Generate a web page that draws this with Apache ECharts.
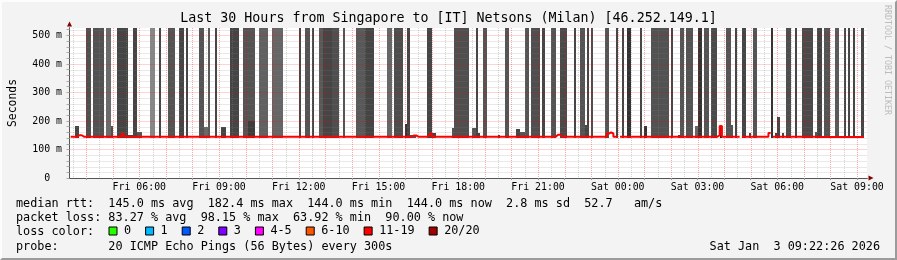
<!DOCTYPE html>
<html><head><meta charset="utf-8">
<script src="https://cdn.jsdelivr.net/npm/echarts@6/dist/echarts.min.js"></script>
<style>
html,body{margin:0;padding:0;background:#f3f3f3;}
#wrap{position:relative;width:897px;height:260px;}
#chart{width:897px;height:260px;}
#frame{position:absolute;left:0;top:0;width:897px;height:260px;box-sizing:border-box;border-top:2px solid #fcfcfc;border-left:2px solid #fcfcfc;border-right:2px solid #9b9b9b;border-bottom:2px solid #9b9b9b;pointer-events:none;}
</style></head><body>
<div id="wrap"><div id="chart"></div><div id="frame"></div></div>
<script>
// ---- time frame (minutes since Fri 00:00) ----
const startMinute = 202 + 26 / 60;      // Fri 03:22:26
const endMinute = startMinute + 30 * 60; // Sat 09:22:26
const firstBinMinute = 205;              // first 5-minute bin starts Fri 03:25
const binMinutes = 5;

// ---- median RTT per 5-minute bin (ms), null = no median ----
const medianMs = [
145,145,145,150,150,145,145,145,145,145,145,145,
145,145,145,145,145,145,145,145,145,145,145,155,
145,145,145,145,145,145,145,145,145,145,145,145,
145,145,145,145,145,145,145,145,145,145,145,145,
145,145,145,145,145,145,145,145,145,145,145,145,
145,145,145,145,145,145,145,145,145,145,145,145,
145,145,145,145,145,145,145,145,145,145,145,145,
145,145,145,145,145,145,145,145,145,145,145,145,
145,145,145,145,145,145,145,145,145,145,145,145,
145,145,145,145,145,145,145,145,145,145,145,145,
145,145,145,145,145,145,145,145,145,145,145,145,
145,145,145,145,145,145,145,145,145,145,145,145,
145,145,145,145,145,145,145,145,145,145,149,149,
145,145,145,145,145,151,158,145,145,145,145,145,
145,145,145,145,145,145,145,145,145,145,145,145,
145,145,145,145,145,145,145,145,145,145,145,145,
145,145,145,145,145,145,145,145,145,145,145,145,
145,145,145,145,145,145,145,145,145,145,145,145,
145,145,145,152,152,145,145,145,145,145,145,145,
145,145,145,145,145,145,145,145,145,145,145,145,
145,145,156,160,156,145,145,null,145,145,145,145,
145,145,145,145,145,145,145,145,145,145,145,145,
145,145,145,145,145,145,145,145,145,145,145,145,
145,145,145,145,145,145,145,145,145,145,145,145,
145,145,145,145,150,182.4,145,145,145,145,145,145,
145,145,null,145,145,145,145,145,145,145,145,145,
145,145,145,158,null,145,145,145,145,145,145,145,
145,145,145,145,145,145,145,145,145,145,145,145,
144,144,144,144,144,144,144,144,144,144,144,144,
144,144,144,144,144,144,144,144,144,144
];

// ---- smoke (ping spread) runs: first bin, bin count, top (ms), density ----
// tall runs reach beyond the top of the scale (600 = off-scale)
const smokeBin = [7,10,16,21,28,36,40,44,49,52,58,62,65,72,78,85,91,103,106,109,112,114,118,123,129,133,143,146,152,161,173,183,186,196,205,208,213,217,221,227,230,233,235,241,246,249,251,257,262,271,275,278,283,286,289,296,300,303,308,316,323,327,330,337,340,345,349,351,353,357,
  2,18,26,30,60,68,80,153,151,163,172,181,184,193,201,203,232,259,274,282,293,298,306,318,319,321,336];
const smokeLen = [2,5,2,5,2,2,1,3,2,1,2,1,1,4,5,4,5,1,2,1,2,4,3,1,4,4,2,4,1,2,7,1,2,2,2,4,1,2,3,1,2,1,1,2,1,1,2,1,8,1,2,3,2,2,3,2,1,2,2,1,2,1,5,2,3,2,1,1,1,1,
  2,1,2,2,2,2,3,3,1,2,1,2,1,1,2,2,2,1,1,1,1,1,1,1,1,1,1];
const smokeTop = [600,600,600,600,600,600,600,600,600,600,600,600,600,600,600,600,600,600,600,600,600,600,600,600,600,600,600,600,600,600,600,600,600,600,600,600,600,600,600,600,600,600,600,600,600,600,600,600,600,600,600,600,600,600,600,600,600,600,600,600,600,600,600,600,600,600,600,600,600,600,
  181,181,151,161,179,178,200,152,189,157,175,175,157,150,171,161,185,182,150,181,182,185,157,157,213,157,160];
const smokeDensity = [.69,.68,.58,.73,.73,.47,.73,.67,.73,.73,.67,.65,.73,.73,.67,.62,.60,.73,.67,.73,.65,.73,.69,.67,.65,.73,.60,.70,.73,.73,.69,.73,.67,.67,.67,.69,.73,.67,.71,.73,.67,.73,.70,.67,.73,.73,.80,.73,.68,.73,.67,.67,.80,.67,.71,.67,.73,.73,.67,.80,.70,.73,.71,.73,.67,.65,.73,.73,.73,.73,
  .73,.69,.73,.67,.60,.73,.76,.67,.80,.73,.67,.67,.73,.73,.73,.67,.73,.80,.73,.60,.87,.67,.73,.73,.73,.73,.67];
const smokeLowMs = 141;

// ---- axes ----
const timeLabelMinutes = [360,540,720,900,1080,1260,1440,1620,1800,1980];
const timeLabels = ['Fri 06:00','Fri 09:00','Fri 12:00','Fri 15:00','Fri 18:00','Fri 21:00','Sat 00:00','Sat 03:00','Sat 06:00','Sat 09:00'];
const yTickValues = [0,100,200,300,400,500];
const yTickLabels = ['0  ','100 m','200 m','300 m','400 m','500 m'];
const yMax = 526;

// ---- legend ----
const lossNames = ['0','1','2','3','4-5','6-10','11-19','20/20'];
const lossColors = ['#26ff00','#00b8ff','#0059ff','#7e00ff','#ff00ff','#ff5500','#ff0000','#a10000'];

const statLine1 = 'median rtt:  145.0 ms avg  182.4 ms max  144.0 ms min  144.0 ms now  2.8 ms sd  52.7   am/s';
const statLine2 = 'packet loss: 83.27 % avg  98.15 % max  63.92 % min  90.00 % now';
const statLine3 = 'loss color:';
const statLine4 = 'probe:       20 ICMP Echo Pings (56 Bytes) every 300s';
const stampText = 'Sat Jan  3 09:22:26 2026';
const titleText = 'Last 30 Hours from Singapore to [IT] Netsons (Milan) [46.252.149.1]';

// ---------------------------------------------------------------
const MONO = '"DejaVu Sans Mono", monospace';

const smokeData = smokeBin.map((b, i) => [
  firstBinMinute + b * binMinutes,
  firstBinMinute + (b + smokeLen[i]) * binMinutes,
  smokeLowMs, smokeTop[i], smokeDensity[i]
]);

const medianData = [];
medianMs.forEach((v, k) => {
  const t = firstBinMinute + k * binMinutes;
  if (v === null) { medianData.push([t, '-']); }
  else { medianData.push([t, v]); medianData.push([t + binMinutes, v]); }
});

// grid lines (kind 0: hour, 1: half hour, 2: 100 ms, 3: 20 ms)
const gridData = [];
for (let t = Math.ceil(startMinute / 30) * 30; t < endMinute; t += 30) gridData.push([t % 60 === 0 ? 0 : 1, t]);
for (let v = 20; v < yMax; v += 20) gridData.push([v % 100 === 0 ? 2 : 3, v]);
const yMinorTicks = []; for (let v = 0; v < yMax; v += 20) yMinorTicks.push(v);
const hourTicks = []; for (let t = Math.ceil(startMinute / 60) * 60; t < endMinute; t += 60) hourTicks.push(t);

function grayOf(d) { const g = Math.round(255 * (1 - d)); return 'rgb(' + g + ',' + g + ',' + g + ')'; }

const chart = echarts.init(document.getElementById('chart'), null, {renderer: 'canvas'});
const option = {
  animation: false,
  backgroundColor: '#f3f3f3',
  grid: {left: 67, right: 30, top: 28, bottom: 82, show: true, backgroundColor: '#ffffff', borderWidth: 0},
  xAxis: [{
    type: 'value', min: startMinute, max: endMinute, z: 6,
    axisLine: {show: true, onZero: false, lineStyle: {color: '#555', width: 1}},
    axisTick: {show: true, customValues: hourTicks, length: 2, lineStyle: {color: '#999'}},
    axisLabel: {customValues: timeLabelMinutes, formatter: v => timeLabels[timeLabelMinutes.indexOf(v)],
      fontFamily: MONO, fontSize: 9.9, color: '#000', margin: 4.5},
    splitLine: {show: false}
  }, {
    type: 'value', min: startMinute, max: endMinute, position: 'bottom', z: 5,
    axisLine: {show: true, onZero: false, symbol: ['none', 'triangle'], symbolSize: [5, 5], symbolOffset: [0, 4],
      lineStyle: {color: '#7f0000', width: 1}},
    axisTick: {show: false}, axisLabel: {show: false}, splitLine: {show: false}
  }],
  yAxis: [{
    type: 'value', min: 0, max: yMax, interval: 100, z: 6, position: 'left',
    name: 'Seconds', nameLocation: 'middle', nameGap: 50.5,
    nameTextStyle: {fontFamily: MONO, fontSize: 11.4, color: '#000'},
    axisLine: {show: true, lineStyle: {color: '#555', width: 1}},
    axisTick: {show: true, customValues: yMinorTicks, length: 3, lineStyle: {color: '#aaa'}},
    axisLabel: {customValues: yTickValues, formatter: v => yTickLabels[yTickValues.indexOf(v)],
      fontFamily: MONO, fontSize: 9.9, color: '#000', margin: 7.5},
    splitLine: {show: false}
  }, {
    type: 'value', min: 0, max: yMax, z: 5, position: 'left',
    axisLine: {show: true, symbol: ['none', 'triangle'], symbolSize: [5, 5], symbolOffset: [0, 4],
      lineStyle: {color: '#7f0000', width: 1}},
    axisTick: {show: false}, axisLabel: {show: false}, splitLine: {show: false}
  }],
  legend: {
    left: 108.5, top: 225, padding: 0, itemWidth: 8, itemHeight: 8, itemGap: 14, selectedMode: false, icon: 'rect',
    textStyle: {fontFamily: MONO, fontSize: 11.8, color: '#000', padding: [0, 0, 0, 2]},
    data: lossNames.map((n, i) => ({name: n, itemStyle: {color: lossColors[i], opacity: 1, borderColor: '#000', borderWidth: 1}}))
  },
  series: [{
    type: 'custom', name: 'smoke', z: 2, silent: true,
    data: smokeData, encode: {x: [0, 1], y: [2, 3]},
    renderItem: (params, api) => {
      const a = api.coord([api.value(0), api.value(3)]);
      const b = api.coord([api.value(1), api.value(2)]);
      const x0 = Math.round(a[0]), x1 = Math.round(b[0]);
      const y0 = Math.round(a[1]), y1 = Math.round(b[1]);
      const cs = params.coordSys;
      const r = echarts.graphic.clipRectByRect({x: x0, y: y0, width: x1 - x0, height: y1 - y0},
        {x: cs.x, y: cs.y, width: cs.width, height: cs.height});
      if (!r) return null;
      return {type: 'rect', shape: r, style: {fill: grayOf(api.value(4))}};
    }
  }, {
    type: 'custom', name: 'grid', z: 3, silent: true,
    data: gridData,
    renderItem: (params, api) => {
      const kind = api.value(0), v = api.value(1);
      const cs = params.coordSys;
      const major = (kind === 0 || kind === 2);
      const style = {stroke: major ? 'rgba(255,0,0,0.35)' : 'rgba(128,128,128,0.35)', lineWidth: 1, lineDash: [1, 1]};
      if (kind < 2) {
        const x = Math.round(api.coord([v, 0])[0]) + 0.5;
        return {type: 'line', shape: {x1: x, y1: cs.y, x2: x, y2: cs.y + cs.height}, style};
      }
      const y = Math.round(api.coord([startMinute, v])[1]) + 0.5;
      return {type: 'line', shape: {x1: cs.x, y1: y, x2: cs.x + cs.width, y2: y}, style};
    }
  }, {
    type: 'line', name: 'median', z: 4, silent: true, data: medianData,
    showSymbol: false, symbol: 'none', connectNulls: false,
    lineStyle: {color: '#ff0000', width: 2}
  }].concat(lossNames.map((n, i) => ({type: 'scatter', name: n, data: [], itemStyle: {color: lossColors[i], opacity: 1}}))),
  graphic: [
    {type: 'text', x: 448.5, y: 19, style: {text: titleText, font: '13.3px ' + MONO, fill: '#000', align: 'center', verticalAlign: 'middle'}},
    {type: 'text', x: 887.5, y: 5, rotation: -Math.PI / 2, style: {text: 'RRDTOOL / TOBI OETIKER', font: '8.3px ' + MONO, fill: '#bcbcbc', align: 'left', verticalAlign: 'middle'}},
    {type: 'text', x: 16, y: 204.3, style: {text: statLine1, font: '11.8px ' + MONO, fill: '#000', align: 'left', verticalAlign: 'middle'}},
    {type: 'text', x: 16, y: 218.3, style: {text: statLine2, font: '11.8px ' + MONO, fill: '#000', align: 'left', verticalAlign: 'middle'}},
    {type: 'text', x: 16, y: 232.3, style: {text: statLine3, font: '11.8px ' + MONO, fill: '#000', align: 'left', verticalAlign: 'middle'}},
    {type: 'text', x: 16, y: 246.5, style: {text: statLine4, font: '11.8px ' + MONO, fill: '#000', align: 'left', verticalAlign: 'middle'}},
    {type: 'text', x: 880, y: 246.5, style: {text: stampText, font: '11.8px ' + MONO, fill: '#000', align: 'right', verticalAlign: 'middle'}}
  ]
};
chart.setOption(option);
</script></body></html>
